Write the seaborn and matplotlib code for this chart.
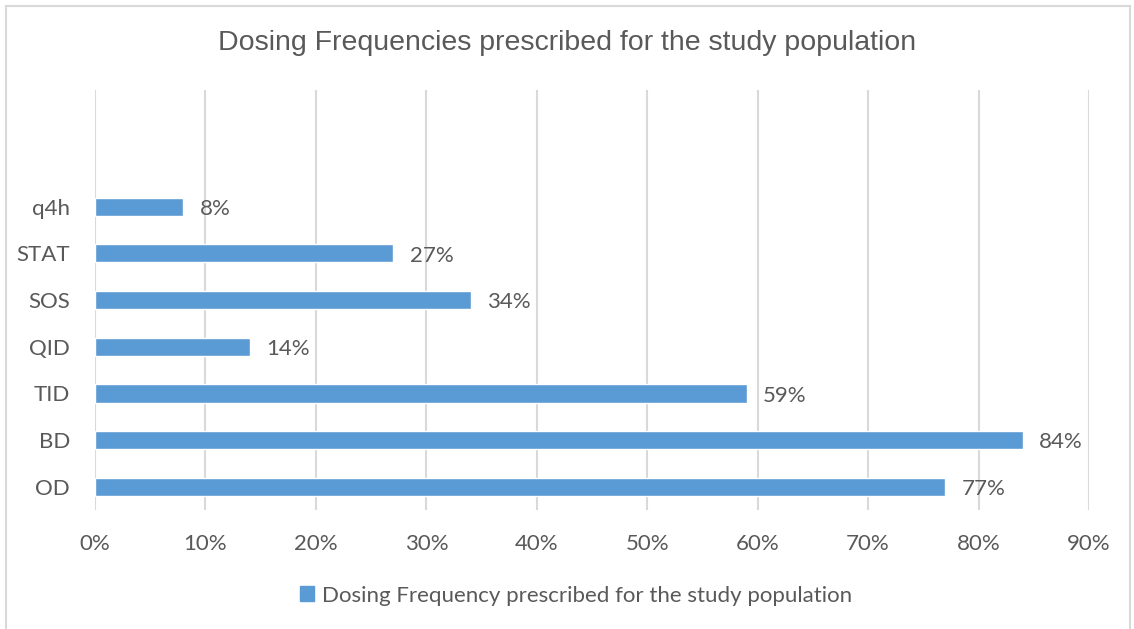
import matplotlib
matplotlib.use("Agg")
import matplotlib.pyplot as plt
import matplotlib.patches as mpatches
import seaborn as sns
import pandas as pd
from matplotlib.ticker import FuncFormatter, MultipleLocator

categories = ["q4h", "STAT", "SOS", "QID", "TID", "BD", "OD"]
values = [8, 27, 34, 14, 59, 84, 77]
series_name = "Dosing Frequency prescribed for the study population"
title = "Dosing Frequencies prescribed for the study population"

df = pd.DataFrame({"freq": categories, "pct": values})

sns.set_theme(style="white")
plt.rcParams["font.family"] = ["Lato", "DejaVu Sans"]

text_color = "#595959"
bar_color = "#5B9BD5"
grid_color = "#D9D9D9"

fig = plt.figure(figsize=(11.34, 6.29), dpi=100)
ax = fig.add_axes([0.0838, 0.189, 0.8765, 0.668])

sns.barplot(data=df, x="pct", y="freq", order=categories, orient="h",
            color=bar_color, width=0.39, saturation=1, ax=ax, zorder=3)

ax.set_xlim(0, 90)
ax.set_ylim(6.5, -2.5)
ax.xaxis.set_major_locator(MultipleLocator(10))
ax.xaxis.set_major_formatter(FuncFormatter(lambda v, _: f"{v:.0f}%"))
ax.grid(axis="x", color=grid_color, linewidth=1.5, zorder=0)
ax.grid(axis="y", visible=False)
for s in ax.spines.values():
    s.set_visible(False)
ax.set_xlabel("")
ax.set_ylabel("")
ax.tick_params(axis="x", length=0, pad=17, labelsize=16, labelcolor=text_color)
ax.tick_params(axis="y", length=0, pad=18, labelsize=16, labelcolor=text_color)

for i, v in enumerate(values):
    ax.text(v + 1.5, i + 0.05, f"{v}%", va="center", ha="left",
            fontsize=16, color=text_color)

fig.text(0.5, 1 - 43 / 629, title, ha="center", va="center", fontsize=20.5,
         color=text_color, family=["Liberation Sans", "DejaVu Sans"])

handle = mpatches.Patch(color=bar_color, label=series_name)
fig.legend(handles=[handle], loc="center", bbox_to_anchor=(0.508, 0.053),
           frameon=False, fontsize=16, labelcolor=text_color,
           handlelength=0.65, handleheight=0.65, handletextpad=0.35)

border = mpatches.Rectangle((6 / 1134, -0.01), 1 - 10 / 1134, 1 - 6 / 629 + 0.01,
                            transform=fig.transFigure, fill=False,
                            edgecolor=grid_color, linewidth=1.5)
fig.patches.append(border)

fig.savefig("out.png", dpi=100)
